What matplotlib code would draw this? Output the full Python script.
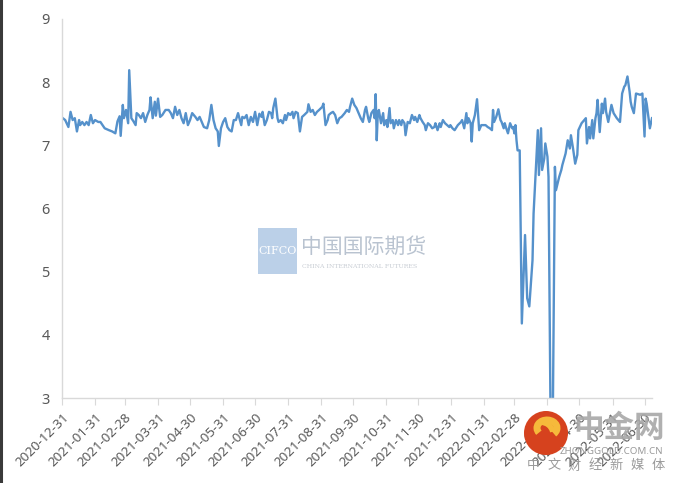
from __future__ import annotations

import matplotlib
matplotlib.use("Agg")
import matplotlib.pyplot as plt
import matplotlib.dates as mdates
from matplotlib.patches import Circle, Rectangle, Arc
import pandas as pd


OUTPUT_PATH = "out.png"

# daily readings, grouped one month per line
dates = [
    "2020-12-31", "2021-01-03", "2021-01-06", "2021-01-08", "2021-01-10", "2021-01-12", "2021-01-14", "2021-01-16",
    "2021-01-17", "2021-01-19", "2021-01-21", "2021-01-23", "2021-01-25", "2021-01-27", "2021-01-29", "2021-01-31",
    "2021-02-03", "2021-02-05", "2021-02-07", "2021-02-09", "2021-02-13", "2021-02-16", "2021-02-19", "2021-02-21",
    "2021-02-23", "2021-02-24", "2021-02-26", "2021-02-27",
    "2021-03-01", "2021-03-03", "2021-03-04", "2021-03-06", "2021-03-08", "2021-03-10", "2021-03-11", "2021-03-13",
    "2021-03-15", "2021-03-17", "2021-03-19", "2021-03-21", "2021-03-23", "2021-03-24", "2021-03-26", "2021-03-28",
    "2021-03-29", "2021-03-31",
    "2021-04-02", "2021-04-04", "2021-04-07", "2021-04-10", "2021-04-12", "2021-04-14", "2021-04-16", "2021-04-18",
    "2021-04-20", "2021-04-22", "2021-04-24", "2021-04-26", "2021-04-28", "2021-04-30",
    "2021-05-02", "2021-05-05", "2021-05-07", "2021-05-09", "2021-05-11", "2021-05-13", "2021-05-16", "2021-05-18",
    "2021-05-20", "2021-05-22", "2021-05-24", "2021-05-26", "2021-05-27", "2021-05-29", "2021-05-31",
    "2021-06-02", "2021-06-04", "2021-06-06", "2021-06-08", "2021-06-10", "2021-06-12", "2021-06-14", "2021-06-17",
    "2021-06-18", "2021-06-20", "2021-06-22", "2021-06-24", "2021-06-26", "2021-06-28", "2021-06-30",
    "2021-07-02", "2021-07-04", "2021-07-06", "2021-07-07", "2021-07-09", "2021-07-11", "2021-07-13", "2021-07-15",
    "2021-07-16", "2021-07-17", "2021-07-19", "2021-07-21", "2021-07-22", "2021-07-24", "2021-07-26", "2021-07-28",
    "2021-07-29", "2021-07-31",
    "2021-08-02", "2021-08-04", "2021-08-05", "2021-08-07", "2021-08-09", "2021-08-11", "2021-08-13", "2021-08-15",
    "2021-08-18", "2021-08-19", "2021-08-21", "2021-08-23", "2021-08-25", "2021-08-27", "2021-08-29",
    "2021-09-01", "2021-09-02", "2021-09-04", "2021-09-06", "2021-09-07", "2021-09-09", "2021-09-11", "2021-09-13",
    "2021-09-15", "2021-09-17", "2021-09-19", "2021-09-22", "2021-09-24", "2021-09-26", "2021-09-27", "2021-09-29",
    "2021-10-01", "2021-10-03", "2021-10-05", "2021-10-07", "2021-10-09", "2021-10-11", "2021-10-12", "2021-10-14",
    "2021-10-15", "2021-10-17", "2021-10-19", "2021-10-20", "2021-10-21", "2021-10-22", "2021-10-23", "2021-10-24",
    "2021-10-26", "2021-10-28", "2021-10-29", "2021-10-31",
    "2021-11-01", "2021-11-03", "2021-11-04", "2021-11-06", "2021-11-07", "2021-11-09", "2021-11-11", "2021-11-12",
    "2021-11-14", "2021-11-15", "2021-11-17", "2021-11-18", "2021-11-20", "2021-11-22", "2021-11-24", "2021-11-26",
    "2021-11-27", "2021-11-29",
    "2021-12-01", "2021-12-02", "2021-12-04", "2021-12-06", "2021-12-07", "2021-12-09", "2021-12-11", "2021-12-13",
    "2021-12-15", "2021-12-16", "2021-12-18", "2021-12-20", "2021-12-21", "2021-12-23", "2021-12-25", "2021-12-27",
    "2021-12-29", "2021-12-30",
    "2022-01-01", "2022-01-03", "2022-01-06", "2022-01-09", "2022-01-10", "2022-01-12", "2022-01-14", "2022-01-15",
    "2022-01-16", "2022-01-18", "2022-01-19", "2022-01-20", "2022-01-22", "2022-01-24", "2022-01-26", "2022-01-28",
    "2022-01-29",
    "2022-02-01", "2022-02-03", "2022-02-05", "2022-02-07", "2022-02-08", "2022-02-09", "2022-02-11", "2022-02-13",
    "2022-02-15", "2022-02-16", "2022-02-18", "2022-02-19", "2022-02-20", "2022-02-22", "2022-02-24", "2022-02-26",
    "2022-02-27", "2022-02-28",
    "2022-03-01", "2022-03-02", "2022-03-03", "2022-03-05", "2022-03-07", "2022-03-10", "2022-03-12", "2022-03-14",
    "2022-03-17", "2022-03-18", "2022-03-22", "2022-03-23", "2022-03-25", "2022-03-26", "2022-03-28", "2022-03-29",
    "2022-03-31",
    "2022-04-01", "2022-04-03", "2022-04-05", "2022-04-07", "2022-04-08", "2022-04-11", "2022-04-13", "2022-04-14",
    "2022-04-17", "2022-04-19", "2022-04-21", "2022-04-22", "2022-04-24", "2022-04-26", "2022-04-28", "2022-04-29",
    "2022-05-02", "2022-05-06", "2022-05-07", "2022-05-09", "2022-05-10", "2022-05-12", "2022-05-13", "2022-05-15",
    "2022-05-16", "2022-05-17", "2022-05-19", "2022-05-21", "2022-05-22", "2022-05-24", "2022-05-25", "2022-05-27",
    "2022-05-30",
    "2022-06-01", "2022-06-04", "2022-06-07", "2022-06-09", "2022-06-11", "2022-06-12", "2022-06-14", "2022-06-16",
    "2022-06-17", "2022-06-18", "2022-06-20", "2022-06-22", "2022-06-26", "2022-06-28", "2022-06-30",
    "2022-07-01", "2022-07-02", "2022-07-05", "2022-07-07",
]

values = [
    7.44, 7.40, 7.29, 7.53, 7.40, 7.43, 7.22, 7.40,
    7.32, 7.37, 7.32, 7.37, 7.32, 7.48, 7.35, 7.40,
    7.37, 7.37, 7.32, 7.27, 7.24, 7.22, 7.19, 7.38,
    7.46, 7.15, 7.64, 7.43,
    7.56, 7.35, 8.19, 7.43, 7.38, 7.32, 7.51, 7.48,
    7.43, 7.51, 7.37, 7.48, 7.56, 7.76, 7.43, 7.69,
    7.47, 7.74,
    7.45, 7.48, 7.56, 7.56, 7.51, 7.43, 7.61, 7.48,
    7.56, 7.43, 7.35, 7.51, 7.32, 7.40,
    7.51, 7.45, 7.40, 7.45, 7.37, 7.29, 7.27, 7.40,
    7.64, 7.40, 7.27, 7.22, 6.99, 7.27, 7.37,
    7.43, 7.29, 7.24, 7.22, 7.40, 7.40, 7.51, 7.32,
    7.45, 7.43, 7.48, 7.32, 7.45, 7.37, 7.53,
    7.32, 7.50, 7.45, 7.53, 7.32, 7.40, 7.53, 7.51,
    7.43, 7.59, 7.74, 7.43, 7.37, 7.40, 7.35, 7.48,
    7.40, 7.51,
    7.48, 7.53, 7.43, 7.53, 7.51, 7.22, 7.45, 7.48,
    7.53, 7.65, 7.53, 7.56, 7.48, 7.53, 7.56,
    7.61, 7.66, 7.32, 7.40, 7.48, 7.51, 7.53, 7.48,
    7.35, 7.43, 7.45, 7.51, 7.56, 7.53, 7.61, 7.74,
    7.64, 7.59, 7.51, 7.43, 7.37, 7.56, 7.61, 7.43,
    7.37, 7.51, 7.56, 7.43, 7.81, 7.08, 7.51, 7.56,
    7.35, 7.51, 7.32, 7.40,
    7.29, 7.59, 7.35, 7.40, 7.27, 7.40, 7.32, 7.40,
    7.32, 7.40, 7.35, 7.16, 7.37, 7.35, 7.48, 7.40,
    7.45, 7.37,
    7.48, 7.43, 7.37, 7.32, 7.24, 7.35, 7.32, 7.27,
    7.29, 7.35, 7.24, 7.35, 7.29, 7.40, 7.35, 7.32,
    7.29, 7.32,
    7.27, 7.24, 7.32, 7.37, 7.40, 7.27, 7.51, 7.35,
    7.43, 7.35, 7.06, 7.35, 7.48, 7.73, 7.24, 7.32,
    7.32,
    7.32, 7.29, 7.27, 7.24, 7.56, 7.37, 7.45, 7.57,
    7.40, 7.37, 7.27, 7.35, 7.29, 7.19, 7.35, 7.27,
    7.29, 7.19,
    7.32, 7.08, 6.92, 6.92, 4.18, 5.58, 4.58, 4.45,
    5.18, 5.92, 7.24, 6.53, 7.27, 6.61, 6.79, 7.03,
    6.82,
    6.50, 2.50, 2.60, 6.66, 6.29, 6.50, 6.61, 6.69,
    6.87, 7.08, 6.95, 7.16, 6.95, 6.71, 6.85, 7.24,
    7.35, 7.43, 7.03, 7.29, 7.11, 7.40, 7.11, 7.43,
    7.51, 7.72, 7.21, 7.66, 7.51, 7.74, 7.53, 7.37,
    7.64,
    7.51, 7.43, 7.37, 7.82, 7.93, 7.95, 8.09, 7.85,
    7.69, 7.61, 7.51, 7.82, 7.80, 7.82, 7.14,
    7.74, 7.66, 7.27, 7.43,
]

tick_dates = [
    "2020-12-31", "2021-01-31", "2021-02-28", "2021-03-31", "2021-04-30", "2021-05-31",
    "2021-06-30", "2021-07-31", "2021-08-31", "2021-09-30", "2021-10-31", "2021-11-30",
    "2021-12-31", "2022-01-31", "2022-02-28", "2022-03-31", "2022-04-30", "2022-05-31",
    "2022-06-30",
]
y_ticks = [3, 4, 5, 6, 7, 8, 9]
slogan = ["中", "文", "财", "经", "新", "媒", "体"]


def main() -> None:
    assert len(dates) == len(values)
    x = pd.to_datetime(dates)
    ticks = pd.to_datetime(tick_dates)

    plt.rcParams["font.family"] = ["Noto Sans", "Noto Sans CJK SC", "DejaVu Sans"]

    fig = plt.figure(figsize=(6.8, 4.83), dpi=100)
    ax = fig.add_axes([62 / 680, 1 - 398 / 483, 590 / 680, 379 / 483])

    ax.plot(x, values, color="#5591CB", linewidth=1.7, solid_joinstyle="round")

    ax.set_ylim(3, 9)
    ax.set_yticks(y_ticks)
    ax.set_xlim(x[0], x[-1])
    ax.set_xticks(ticks)
    ax.xaxis.set_major_formatter(mdates.DateFormatter("%Y-%m-%d"))
    for lab in ax.get_xticklabels():
        lab.set_rotation(45)
        lab.set_ha("right")
        lab.set_va("top")
        lab.set_rotation_mode("anchor")

    for side in ("top", "right"):
        ax.spines[side].set_visible(False)
    for side in ("left", "bottom"):
        ax.spines[side].set_color("#D9D9D9")
        ax.spines[side].set_linewidth(1.0)
    ax.tick_params(axis="x", direction="out", length=5, color="#D9D9D9",
                   labelsize=9.6, labelcolor="#595959", pad=4)
    ax.tick_params(axis="y", length=0, labelsize=10.5, labelcolor="#595959", pad=9)

    # overlay in pixel coordinates for the watermarks
    ov = fig.add_axes([0, 0, 1, 1], zorder=5)
    ov.set_xlim(0, 680)
    ov.set_ylim(483, 0)
    ov.set_facecolor("none")
    ov.axis("off")

    ov.plot([1, 1], [0, 483], color="#3A3A3A", linewidth=2.2)

    ov.add_patch(Rectangle((258, 228), 39, 46, facecolor="#B4CBE6", edgecolor="none", alpha=0.9))
    ov.text(277.5, 251, "CIFCO", color="white", fontsize=8, ha="center", va="center",
            family=["DejaVu Serif"])
    ov.text(301, 247, "中国国际期货", color="#B9C3D0", fontsize=15, ha="left", va="center",
            family=["Noto Sans CJK SC"])
    ov.text(302, 266, "CHINA INTERNATIONAL FUTURES", color="#C8CDD4", fontsize=4.5,
            ha="left", va="center", family=["DejaVu Serif"])

    ov.text(663, 452, "ZHONGGOLD.COM.CN", color="#9A9A9A", fontsize=7, ha="right", va="center")
    for i, ch in enumerate(slogan):
        ov.text(533 + i * 20.8, 466, ch, color="#9A9A9A", fontsize=9.5, ha="center",
                va="center", family=["Noto Sans CJK SC"])
    ov.text(665, 428, "中金网", color="#A8A8A8", fontsize=22, ha="right", va="center",
            family=["Noto Sans CJK SC"], fontweight="bold", alpha=0.9)
    ov.add_patch(Circle((546, 433), 22, facecolor="#D6421E", edgecolor="none"))
    ov.add_patch(Arc((547, 428), 20, 16, theta1=150, theta2=400, color="#F6B93B", linewidth=5))
    ov.add_patch(Arc((540, 434), 26, 24, theta1=270, theta2=350, color="#F6B93B", linewidth=4))

    fig.savefig(OUTPUT_PATH, dpi=100)
    plt.close(fig)


if __name__ == "__main__":
    main()
